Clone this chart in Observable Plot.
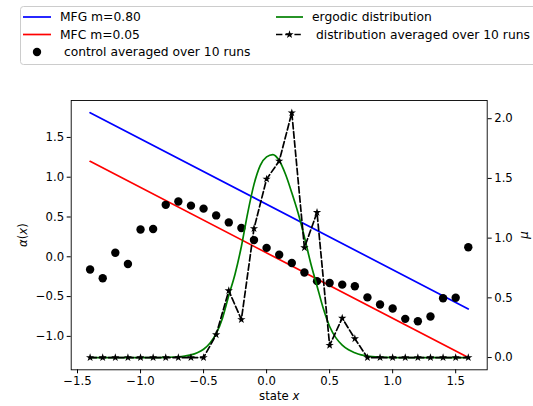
<!DOCTYPE html>
<html><head><meta charset="utf-8">
<script src="https://cdn.jsdelivr.net/npm/d3@7"></script>
<script src="https://cdn.jsdelivr.net/npm/@observablehq/plot@0.6"></script>
<style>
body{margin:0;background:#fff;font-family:"DejaVu Sans",sans-serif;}
#legend{position:relative;width:533px;height:70px;overflow:hidden;}
#legend text{white-space:pre;}
</style></head><body>
<div id="legend"></div>
<div id="chart"></div>
<script>
// ---- data ----
const states = [-1.4,-1.3,-1.2,-1.1,-1.0,-0.9,-0.8,-0.7,-0.6,-0.5,-0.4,-0.3,-0.2,-0.1,0.0,0.1,0.2,0.3,0.4,0.5,0.6,0.7,0.8,0.9,1.0,1.1,1.2,1.3,1.4,1.5,1.6];
const control = [-0.16,-0.27,0.05,-0.09,0.343,0.35,0.653,0.695,0.643,0.605,0.52,0.432,0.362,0.21,0.112,0.025,-0.078,-0.198,-0.306,-0.33,-0.35,-0.37,-0.51,-0.60,-0.65,-0.78,-0.81,-0.75,-0.52,-0.515,0.12];
const distAvg = [0,0,0,0,0,0,0,0,0,0,0.192,0.56,0.318,1.08,1.495,1.645,2.05,0.92,1.215,0.103,0.33,0.158,0,0,0,0,0,0,0,0,0];
const ergoX = [-1.4,-0.9,-0.8,-0.7,-0.65,-0.6,-0.55,-0.5,-0.45,-0.4,-0.35,-0.3,-0.25,-0.2,-0.15,-0.1,-0.05,0.0,0.05,0.1,0.15,0.2,0.25,0.3,0.35,0.4,0.45,0.5,0.55,0.6,0.65,0.7,0.75,0.8,0.9,1.0,1.6];
const ergoMu = [0,0,0.002,0.006,0.012,0.022,0.04,0.07,0.12,0.2,0.33,0.52,0.70,0.93,1.21,1.45,1.61,1.68,1.70,1.65,1.535,1.38,1.21,1.01,0.79,0.60,0.41,0.26,0.165,0.105,0.065,0.04,0.022,0.012,0.003,0,0];
const lineX = [-1.4, 1.6];
const mfgAlpha = [1.81, -0.655];
const mfcAlpha = [1.20, -1.266];
const xTicks = [-1.5,-1.0,-0.5,0.0,0.5,1.0,1.5];
const leftTicks = [-1.0,-0.5,0.0,0.5,1.0,1.5];
const rightTicks = [0.0,0.5,1.0,1.5,2.0];
const seriesLabels = ["MFG m=0.80","MFC m=0.05"," control averaged over 10 runs","ergodic distribution"," distribution averaged over 10 runs"];
const xLabel = "state x", leftLabel = "α(x)", rightLabel = "μ";

// ---- scales: twin y axis mapped onto the left one ----
const yDom = [-1.42, 1.964], muDom = [-0.1025, 2.1525];
const toLeft = m => yDom[0] + (m - muDom[0]) * (yDom[1]-yDom[0])/(muDom[1]-muDom[0]);
const fromLeft = a => muDom[0] + (a - yDom[0]) * (muDom[1]-muDom[0])/(yDom[1]-yDom[0]);
const fmt = d3.format(".1f");

const lines = lineX.map((x,i)=>({x, mfg: mfgAlpha[i], mfc: mfcAlpha[i]}));
const ctrl = states.map((x,i)=>({x, a: control[i]}));
const dist = states.map((x,i)=>({x, m: distAvg[i]}));
const ergo = ergoX.map((x,i)=>({x, m: ergoMu[i]}));

const plot = Plot.plot({
  width: 533, height: 336,
  marginTop: 30, marginBottom: 36.7, marginLeft: 70.7, marginRight: 46.3,
  style: {fontFamily: '"DejaVu Sans"', fontSize: "11.7px", color: "black", background: "white", overflow: "visible"},
  x: {domain: [-1.55, 1.75]},
  y: {domain: yDom},
  marks: [
    Plot.line(lines, {x:"x", y:"mfg", stroke:"#0000ff", strokeWidth:1.7}),
    Plot.line(lines, {x:"x", y:"mfc", stroke:"#ff0000", strokeWidth:1.7}),
    Plot.dot(ctrl, {x:"x", y:"a", r:4.2, fill:"black", stroke:null}),
    Plot.line(ergo, {x:"x", y:d=>toLeft(d.m), stroke:"#008000", strokeWidth:1.7, curve:"monotone-x"}),
    Plot.line(dist, {x:"x", y:d=>toLeft(d.m), stroke:"black", strokeWidth:1.7, strokeDasharray:"6.4,2.8"}),
    Plot.dot(dist, {x:"x", y:d=>toLeft(d.m), symbol:"star", r:2.6, fill:"black", stroke:null}),
    Plot.frame({stroke:"black", strokeWidth:0.9}),
    Plot.axisX({ticks:xTicks, tickSize:4, tickPadding:3, tickFormat:fmt, label:null}),
    Plot.axisY({anchor:"left", ticks:leftTicks, tickSize:4, tickPadding:3, tickFormat:fmt, label:null}),
    Plot.axisY({anchor:"right", ticks:rightTicks.map(toLeft), tickSize:4, tickPadding:3, tickFormat:d=>fmt(fromLeft(d)), label:null}),
    Plot.text([xLabel], {text:d=>d, frameAnchor:"bottom", lineAnchor:"middle", textAnchor:"middle", dy:26, fontSize:11.7}),
    Plot.text([leftLabel], {text:d=>d, frameAnchor:"left", lineAnchor:"middle", textAnchor:"middle", dx:-48, rotate:-90, fontSize:11.7}),
    Plot.text([rightLabel], {text:d=>d, frameAnchor:"right", lineAnchor:"middle", textAnchor:"middle", dx:37, rotate:-90, fontSize:11.7, fontStyle:"italic"})
  ]
});
document.getElementById("chart").appendChild(plot);

// italic math parts of the labels
d3.select(plot).selectAll("text").each(function(){
  const t = this.textContent;
  if (t === xLabel) {
    const s = d3.select(this); s.text(null);
    s.append("tspan").text("state ");
    s.append("tspan").attr("font-style","italic").text("x");
  } else if (t === leftLabel) {
    const s = d3.select(this); s.text(null);
    s.append("tspan").attr("font-style","italic").text("α");
    s.append("tspan").text("(");
    s.append("tspan").attr("font-style","italic").text("x");
    s.append("tspan").text(")");
  }
});

// ---- legend (above the chart) ----
const lg = d3.select("#legend").append("svg").attr("width",533).attr("height",70)
  .style("font-family",'"DejaVu Sans"').style("font-size","12.3px");
lg.append("rect").attr("x",20.5).attr("y",6.5).attr("width",530).attr("height",58).attr("rx",3)
  .attr("fill","white").attr("stroke","#cccccc").attr("stroke-width",1);
const rows = [17, 34.5, 52];
const h1 = 23, h2 = 51, c2a = 276, c2b = 303;
lg.append("line").attr("x1",h1).attr("x2",h2).attr("y1",rows[0]).attr("y2",rows[0]).attr("stroke","#0000ff").attr("stroke-width",1.7);
lg.append("line").attr("x1",h1).attr("x2",h2).attr("y1",rows[1]).attr("y2",rows[1]).attr("stroke","#ff0000").attr("stroke-width",1.7);
lg.append("circle").attr("cx",(h1+h2)/2).attr("cy",rows[2]).attr("r",4.2).attr("fill","black");
lg.append("line").attr("x1",c2a).attr("x2",c2b).attr("y1",rows[0]).attr("y2",rows[0]).attr("stroke","#008000").attr("stroke-width",1.7);
lg.append("line").attr("x1",c2a).attr("x2",c2b).attr("y1",rows[1]).attr("y2",rows[1]).attr("stroke","black").attr("stroke-width",1.7).attr("stroke-dasharray","6.4,2.8");
lg.append("path").attr("d", d3.symbol(d3.symbolStar, Math.PI*2.6*2.6)()).attr("transform",`translate(${(c2a+c2b)/2},${rows[1]})`).attr("fill","black");
const pos = [[60,rows[0]],[60,rows[1]],[60,rows[2]],[312,rows[0]],[312,rows[1]]];
seriesLabels.forEach((s,i)=>{
  lg.append("text").attr("x",pos[i][0]).attr("y",pos[i][1]+4.4).attr("fill","#000").text(s);
});
</script>
</body></html>
